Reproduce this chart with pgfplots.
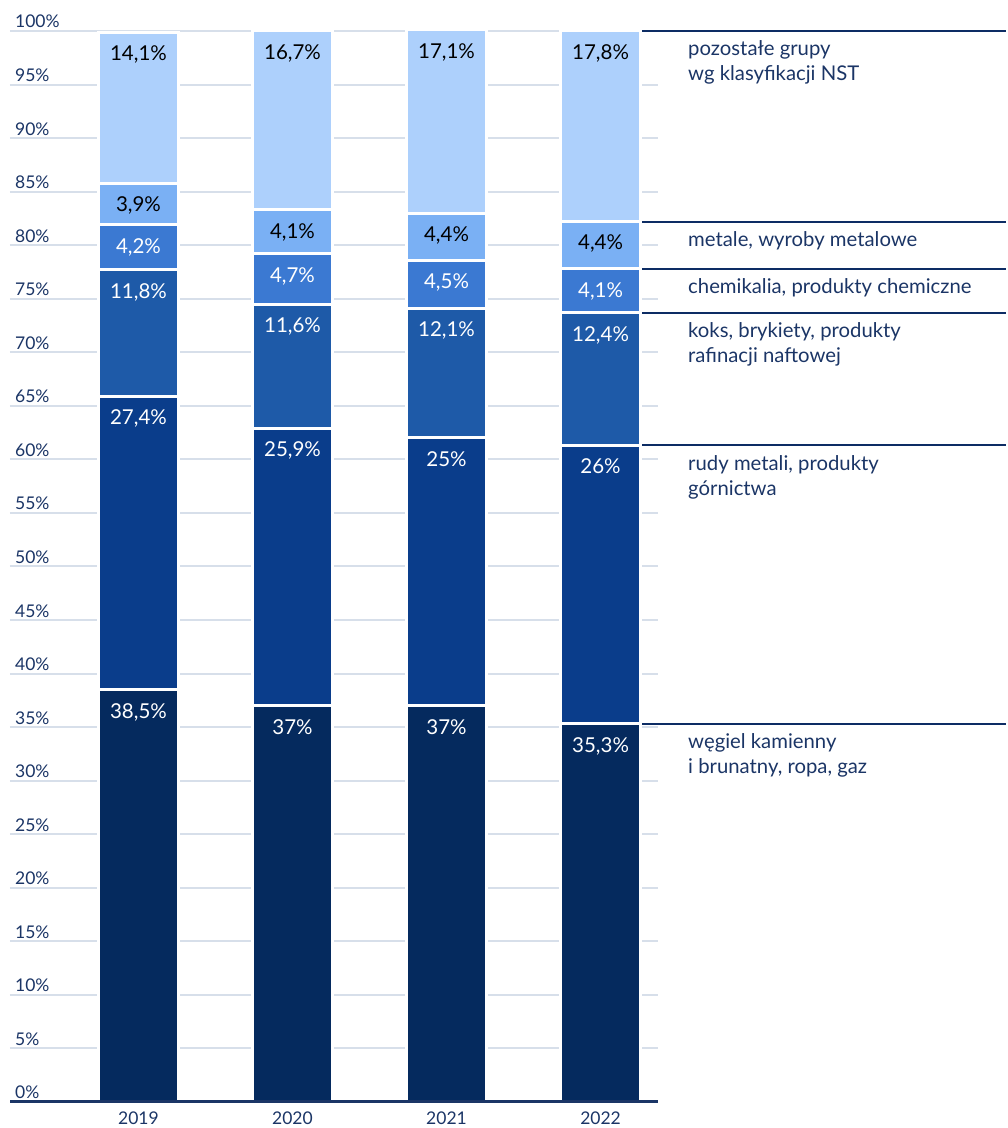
\documentclass[border=0pt]{standalone}
\usepackage{fontspec}
\setmainfont{Lato}
\usepackage{pgfplots}
\pgfplotsset{compat=1.18}
\definecolor{cA}{HTML}{052A5E}
\definecolor{cB}{HTML}{0A3D8B}
\definecolor{cC}{HTML}{1E5AA8}
\definecolor{cD}{HTML}{3B79D2}
\definecolor{cE}{HTML}{7AB0F4}
\definecolor{cF}{HTML}{ADD0FC}
\definecolor{txtc}{HTML}{1B3566}
\definecolor{linec}{HTML}{0D2C64}
\definecolor{gridc}{HTML}{D7DFEA}
\begin{document}
\begin{tikzpicture}
\begin{axis}[
  scale only axis, width=648pt, height=1071pt,
  xmin=-0.834, xmax=3.373, ymin=0, ymax=100,
  ybar stacked, bar width=80pt,
  axis line style={draw=none},
  ymajorgrids, grid style={gridc, line width=2pt},
  ytick={0,5,...,100},
  yticklabel={\pgfmathprintnumber{\tick}\%},
  yticklabel style={anchor=base west, inner sep=0pt, xshift=5pt, yshift=3pt, font=\fontsize{17.5}{20}\selectfont, text=txtc},
  xtick={0,1,2,3}, xticklabels={2019,2020,2021,2022},
  xticklabel style={anchor=north, inner sep=0pt, yshift=-10pt, font=\fontsize{17.5}{20}\selectfont, text=txtc},
  major tick length=0pt,
  /pgf/number format/assume math mode=true,
  clip=false,
  point meta=explicit symbolic,
  visualization depends on=rawy \as \rawy,
  nodes near coords,
  every node near coord/.style={anchor=north, inner sep=0pt, yshift={\rawy*5.355-12}, font=\fontsize{20.5}{24}\selectfont, text=white},
]
\addplot[fill=cA, draw=white, line width=3pt] coordinates {(0,38.5) [38,5\%] (1,37) [37\%] (2,37) [37\%] (3,35.3) [35,3\%]};
\addplot[fill=cB, draw=white, line width=3pt] coordinates {(0,27.4) [27,4\%] (1,25.9) [25,9\%] (2,25) [25\%] (3,26) [26\%]};
\addplot[fill=cC, draw=white, line width=3pt] coordinates {(0,11.8) [11,8\%] (1,11.6) [11,6\%] (2,12.1) [12,1\%] (3,12.4) [12,4\%]};
\addplot[fill=cD, draw=white, line width=3pt] coordinates {(0,4.2) [4,2\%] (1,4.7) [4,7\%] (2,4.5) [4,5\%] (3,4.1) [4,1\%]};
\addplot[fill=cE, draw=white, line width=3pt, every node near coord/.append style={text=black}] coordinates {(0,3.9) [3,9\%] (1,4.1) [4,1\%] (2,4.4) [4,4\%] (3,4.4) [4,4\%]};
\addplot[fill=cF, draw=white, line width=3pt, every node near coord/.append style={text=black}] coordinates {(0,14.1) [14,1\%] (1,16.7) [16,7\%] (2,17.1) [17,1\%] (3,17.8) [17,8\%]};
\coordinate (bl) at (rel axis cs:0,0);
\coordinate (br) at (rel axis cs:1,0);
\draw[linec, line width=2pt] (axis cs:3.25,100) -- (axis cs:5.633,100);
\draw[linec, line width=2pt] (axis cs:3.25,82.2) -- (axis cs:5.633,82.2);
\draw[linec, line width=2pt] (axis cs:3.25,77.8) -- (axis cs:5.633,77.8);
\draw[linec, line width=2pt] (axis cs:3.25,73.7) -- (axis cs:5.633,73.7);
\draw[linec, line width=2pt] (axis cs:3.25,61.3) -- (axis cs:5.633,61.3);
\draw[linec, line width=2pt] (axis cs:3.25,35.3) -- (axis cs:5.633,35.3);
\tikzset{lab/.style={anchor=base west, align=left, inner sep=0pt, yshift=-25pt, text=txtc, font=\fontsize{20.3}{25}\selectfont}}
\node[lab, yshift=-25pt] at (axis cs:3.568,100) {pozostałe grupy\\wg klasyfikacji NST};
\node[lab] at (axis cs:3.568,82.2) {metale, wyroby metalowe};
\node[lab] at (axis cs:3.568,77.8) {chemikalia, produkty chemiczne};
\node[lab, yshift=-25pt] at (axis cs:3.568,73.7) {koks, brykiety, produkty\\rafinacji naftowej};
\node[lab, yshift=-25pt] at (axis cs:3.568,61.3) {rudy metali, produkty\\górnictwa};
\node[lab, yshift=-25pt] at (axis cs:3.568,35.3) {węgiel kamienny\\i brunatny, ropa, gaz};
\path (rel axis cs:0,0) ++(-10pt,-26pt);
\path (rel axis cs:0,1) ++(-10pt,31pt);
\end{axis}
\draw[txtc, line width=3pt] (bl) -- (br);
\end{tikzpicture}
\end{document}
